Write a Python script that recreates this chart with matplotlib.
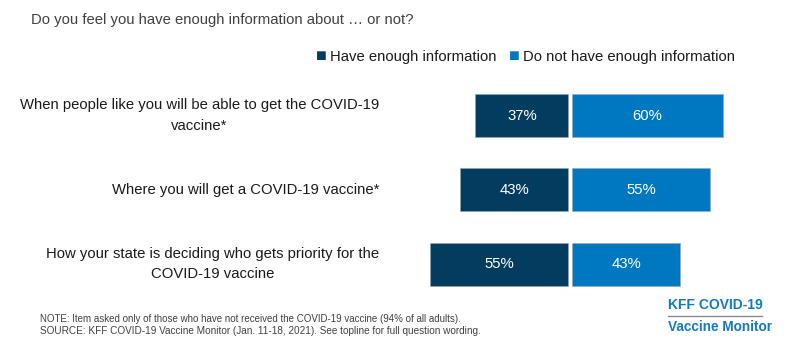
import matplotlib
matplotlib.use('Agg')
import matplotlib.pyplot as plt

items = ['When people like you will be able to get the COVID-19\nvaccine*',
         'Where you will get a COVID-19 vaccine*',
         'How your state is deciding who gets priority for the\nCOVID-19 vaccine']
have = [37, 43, 55]
have_not = [60, 55, 43]
series = ['Have enough information', 'Do not have enough information']

dark = '#023c5e'
light = '#0078c1'
W, H = 794, 354
plt.rcParams['font.family'] = ['Liberation Sans', 'DejaVu Sans']

fig = plt.figure(figsize=(W / 100, H / 100), dpi=100)
ax = fig.add_axes([0, 0, 1, 1])
ax.axis('off')

# pixel mapping: 2.51 px per %, centre line at x=570.3 px
ppp = 2.51
cx = 570.3
ax.set_xlim(-cx / ppp, (W - cx) / ppp)
pitch = 74.2
y0 = 115.7
ax.set_ylim((H - y0) / pitch, -y0 / pitch)

gap = 0.8
ys = range(len(items))
ax.barh(ys, [-v for v in have], left=-gap, height=0.58, color=dark,
        edgecolor='#9aa5ad', linewidth=0.4)
ax.barh(ys, have_not, left=gap, height=0.58, color=light,
        edgecolor='#9aa5ad', linewidth=0.4)
for y, a, b, lab in zip(ys, have, have_not, items):
    ax.text(-gap - a / 2, y, f'{a}%', ha='center', va='center',
            color='white', fontsize=10.7)
    ax.text(gap + b / 2, y, f'{b}%', ha='center', va='center',
            color='white', fontsize=10.7)
    ax.text((379 - cx) / ppp, y, lab, ha='right', va='center',
            multialignment='center', fontsize=10.7, color='#1a1a1a',
            linespacing=1.6)

def px(x, y):
    return x / W, 1 - y / H

fig.text(*px(31, 20), 'Do you feel you have enough information about \u2026 or not?',
         ha='left', va='center', fontsize=10.7, color='#404040')

# legend
fig.text(*px(316, 57), '\u25a0', ha='left', va='center', fontsize=13, color=dark)
fig.text(*px(330, 57), series[0], ha='left', va='center', fontsize=10.7, color='#1a1a1a')
fig.text(*px(509, 57), '\u25a0', ha='left', va='center', fontsize=13, color=light)
fig.text(*px(523, 57), series[1], ha='left', va='center', fontsize=10.7, color='#1a1a1a')

# notes
fig.text(*px(40, 319), 'NOTE: Item asked only of those who have not received the COVID-19 vaccine (94% of all adults).',
         ha='left', va='center', fontsize=7, color='#404040')
fig.text(*px(40, 331), 'SOURCE: KFF COVID-19 Vaccine Monitor (Jan. 11-18, 2021). See topline for full question wording.',
         ha='left', va='center', fontsize=7.2, color='#404040')

# logo
fig.text(*px(668, 305), 'KFF COVID-19', ha='left', va='center', fontsize=10,
         fontweight='bold', color='#1479be')
fig.add_artist(plt.Line2D([668 / W, 762 / W], [1 - 316 / H, 1 - 316 / H],
                          color='#8a8a8a', linewidth=1))
fig.text(*px(668, 327), 'Vaccine Monitor', ha='left', va='center', fontsize=9.8,
         fontweight='bold', color='#1479be')

fig.savefig('out.png', dpi=100)
